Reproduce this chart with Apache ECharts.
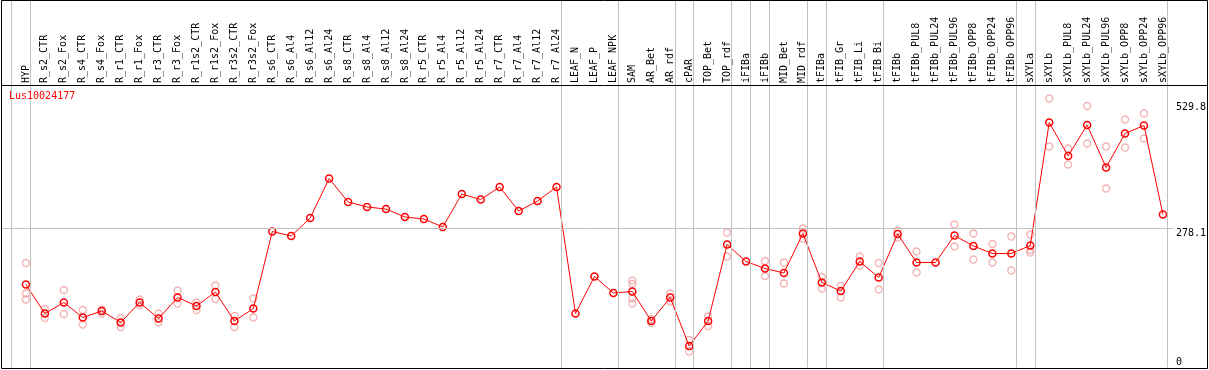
<!DOCTYPE html>
<html>
<head>
<meta charset="utf-8">
<script src="https://cdn.jsdelivr.net/npm/echarts@6/dist/echarts.min.js"></script>
<style>
html, body { margin: 0; padding: 0; background: #fff; }
#chart { width: 1209px; height: 370px; }
</style>
</head>
<body>
<div id="chart"></div>
<script>
const geneId = "Lus10024177";

// sample names, left to right
const categories = [
  "HYP", "R_s2_CTR", "R_s2_Fox", "R_s4_CTR", "R_s4_Fox", "R_r1_CTR", "R_r1_Fox",
  "R_r3_CTR", "R_r3_Fox", "R_r1s2_CTR", "R_r1s2_Fox", "R_r3s2_CTR", "R_r3s2_Fox",
  "R_s6_CTR", "R_s6_Al4", "R_s6_Al12", "R_s6_Al24", "R_s8_CTR", "R_s8_Al4",
  "R_s8_Al12", "R_s8_Al24", "R_r5_CTR", "R_r5_Al4", "R_r5_Al12", "R_r5_Al24",
  "R_r7_CTR", "R_r7_Al4", "R_r7_Al12", "R_r7_Al24", "LEAF_N", "LEAF_P", "LEAF_NPK",
  "SAM", "AR_Bet", "AR_rdf", "cPAR", "TOP_Bet", "TOP_rdf", "iFIBa", "iFIBb",
  "MID_Bet", "MID_rdf", "tFIBa", "tFIB_Gr", "tFIB_Li", "tFIB_Bi", "tFIBb",
  "tFIBb_PUL8", "tFIBb_PUL24", "tFIBb_PUL96", "tFIBb_OPP8", "tFIBb_OPP24",
  "tFIBb_OPP96", "sXYLa", "sXYLb", "sXYLb_PUL8", "sXYLb_PUL24", "sXYLb_PUL96",
  "sXYLb_OPP8", "sXYLb_OPP24", "sXYLb_OPP96",
];

// mean expression per sample
const means = [
  166, 108, 130, 100, 113, 90, 130, 98, 140, 123, 151, 93, 118,
  272, 263, 299, 378, 331, 321, 317, 301, 297, 281, 347, 336, 361, 313, 333, 361,
  108, 182, 149,
  152, 93, 140, 43, 93, 246, 212, 198, 189, 268, 170, 153, 212, 180,
  267, 210, 210, 264, 243, 228, 228,
  244, 490, 423, 485, 400, 468, 484, 306,
];

// single replicates per sample (empty where they sit under the mean)
const replicates = [
  [209, 148, 136], [117, 99], [155, 107], [115, 86], [116, 108], [99, 81], [136, 125],
  [108, 90], [154, 128], [130, 115], [164, 137], [103, 81], [138, 100],
  [], [], [], [], [], [], [], [], [], [], [], [], [], [], [], [],
  [], [], [],
  [174, 167, 138, 128], [97, 89], [148, 132], [55, 32], [102, 83], [270, 222], [],
  [213, 183], [210, 168], [278, 258], [181, 158], [163, 140], [222, 204], [209, 156],
  [274, 260], [232, 190], [], [286, 242], [268, 216], [247, 210], [262, 194],
  [266, 235, 230], [538, 442], [438, 406], [523, 448], [442, 358], [496, 440], [508, 458], [],
];

// index of the last sample in each group (-1 = left edge)
const groupEnds = [-1, 0, 28, 31, 34, 35, 37, 38, 39, 41, 42, 45, 52, 53, 60];

const yLabels = [0, 278.1, 529.8];
const refLine = 278.1;

const mono = "DejaVu Sans Mono";
const red = "#ff0000";
const pink = "#f0a0a0";
const gray = "#c0c0c0";

const repPoints = [];
replicates.forEach((reps, i) => reps.forEach((v) => repPoints.push([i, v])));

const chart = echarts.init(document.getElementById("chart"));

chart.setOption({
  animation: false,
  title: {
    text: geneId,
    left: 9,
    top: 91,
    padding: 0,
    textStyle: { color: red, fontSize: 10, fontFamily: mono, fontWeight: "normal" },
  },
  grid: { left: 1, top: 0, width: 1176, height: 367.5 },
  xAxis: {
    type: "value",
    position: "top",
    offset: -86,
    min: -25 / 19,
    max: 1151 / 19,
    axisLine: { show: false },
    axisTick: { show: false },
    splitLine: { show: false },
    axisLabel: {
      customValues: categories.map((_, i) => i),
      formatter: (v) => categories[v],
      rotate: 90,
      margin: 3,
      color: "#000",
      fontSize: 10,
      fontFamily: mono,
    },
  },
  yAxis: {
    type: "value",
    position: "right",
    min: 0,
    max: 735,
    axisLine: { show: false },
    axisTick: { show: false },
    splitLine: { show: false },
    axisLabel: {
      customValues: yLabels,
      margin: 2,
      color: "#000",
      fontSize: 10,
      fontFamily: mono,
      verticalAlign: "top",
      verticalAlignMinLabel: "bottom",
    },
  },
  graphic: [
    {
      type: "rect",
      silent: true,
      z: 10,
      shape: { x: 1.5, y: 0.5, width: 1206, height: 368 },
      style: { fill: "none", stroke: "#000", lineWidth: 1 },
    },
    {
      type: "line",
      silent: true,
      z: 10,
      shape: { x1: 1.5, y1: 85.5, x2: 1207.5, y2: 85.5 },
      style: { stroke: "#000", lineWidth: 1 },
    },
  ],
  series: [
    {
      type: "scatter",
      data: repPoints,
      symbol: "circle",
      symbolSize: 7,
      itemStyle: { color: "rgba(0,0,0,0)", borderColor: pink, borderWidth: 1.3 },
      silent: true,
      markLine: {
        silent: true,
        symbol: ["none", "none"],
        label: { show: false },
        lineStyle: { color: gray, width: 1, type: "solid" },
        data: [
          ...groupEnds.map((k) => ({ xAxis: k + 4.5 / 19 })),
          { yAxis: refLine },
        ],
      },
    },
    {
      type: "line",
      data: means.map((v, i) => [i, v]),
      symbol: "circle",
      symbolSize: 7,
      showAllSymbol: true,
      lineStyle: { color: red, width: 1 },
      itemStyle: { color: "rgba(0,0,0,0)", borderColor: red, borderWidth: 1.5 },
      silent: true,
    },
  ],
});
</script>
</body>
</html>
